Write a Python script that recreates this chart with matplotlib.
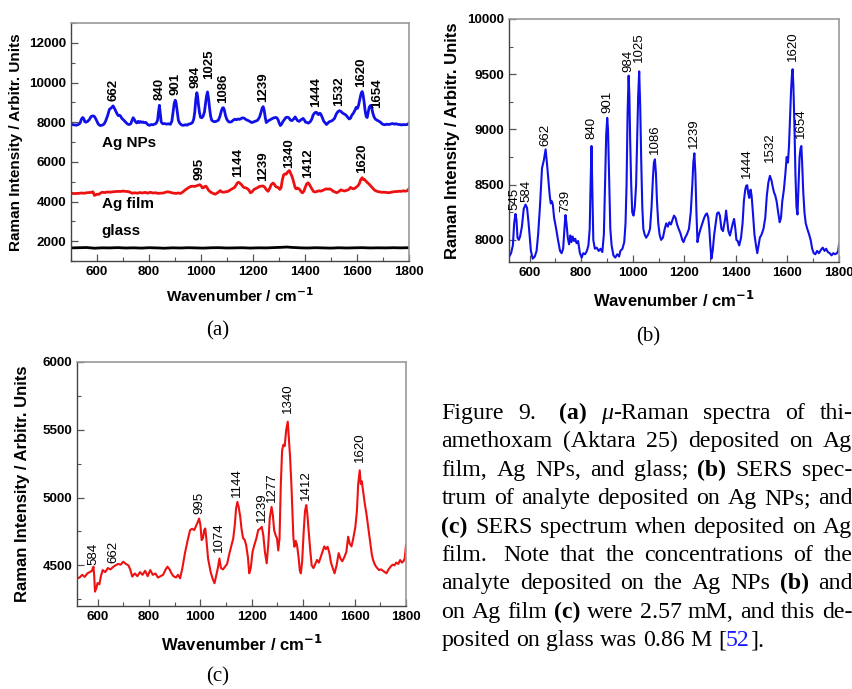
import re
import numpy as np
import matplotlib
matplotlib.use("Agg")
import matplotlib.pyplot as plt
from matplotlib.ticker import MultipleLocator
from matplotlib.font_manager import FontProperties

# ---------------------------------------------------------------------------
# Spectra (wavenumber / cm^-1, Raman intensity / arbitr. units)
# ---------------------------------------------------------------------------
np_wavenumber = [
    500, 508, 515, 520, 528, 535, 540, 545, 549, 553, 558, 563, 570, 577, 584,
    590, 596, 605, 612, 620, 627, 633, 640, 648, 655, 662, 667, 672, 678, 682,
    686, 690, 695, 703, 710, 718, 724, 730, 735, 739, 743, 748, 753, 758, 762,
    767, 772, 777, 782, 788, 795, 802, 808, 815, 822, 828, 833, 836, 840, 843,
    847, 853, 860, 868, 875, 882, 888, 893, 897, 901, 904, 908, 913, 918, 925,
    932, 940, 947, 952, 960, 967, 972, 976, 980, 984, 987, 990, 994, 998, 1003,
    1008, 1013, 1017, 1021, 1025, 1029, 1033, 1037, 1041, 1046, 1052, 1060,
    1067, 1073, 1078, 1082, 1086, 1090, 1094, 1099, 1104, 1110, 1117, 1124,
    1130, 1136, 1142, 1148, 1154, 1160, 1166, 1172, 1178, 1185, 1192, 1197,
    1203, 1210, 1218, 1225, 1231, 1235, 1239, 1243, 1247, 1251, 1257, 1263,
    1270, 1277, 1283, 1288, 1293, 1297, 1301, 1305, 1310, 1316, 1322, 1327,
    1333, 1338, 1344, 1350, 1355, 1359, 1362, 1366, 1371, 1377, 1383, 1388,
    1393, 1398, 1402, 1407, 1413, 1420, 1426, 1431, 1436, 1440, 1444, 1448,
    1452, 1457, 1461, 1466, 1472, 1478, 1483, 1488, 1493, 1500, 1507, 1514,
    1520, 1526, 1532, 1538, 1543, 1548, 1553, 1558, 1564, 1570, 1575, 1580,
    1586, 1592, 1597, 1602, 1606, 1610, 1614, 1617, 1620, 1623, 1627, 1631,
    1635, 1639, 1643, 1647, 1651, 1654, 1657, 1661, 1666, 1671, 1677, 1684,
    1690, 1696, 1702, 1708, 1715, 1722, 1730, 1737, 1744, 1750, 1757, 1764,
    1771, 1778, 1785, 1792, 1797, 1800]
np_intensity = [
    7900, 7870, 7860, 7845, 7880, 7950, 8150, 8235, 8180, 8020, 8000, 8030,
    8120, 8280, 8320, 8290, 8150, 7900, 7830, 7850, 7900, 8050, 8300, 8650,
    8720, 8820, 8700, 8560, 8400, 8330, 8350, 8320, 8200, 8100, 8000, 7900,
    7880, 7920, 8100, 8225, 8150, 8020, 7960, 8040, 7980, 8030, 7990, 8010,
    7970, 7990, 7880, 7840, 7880, 7870, 7900, 7950, 8100, 8450, 8850, 8500,
    8000, 7920, 7930, 7900, 7920, 7890, 8050, 8550, 8950, 9105, 9000, 8600,
    8100, 7950, 7860, 7840, 7870, 7850, 7900, 7920, 7980, 8150, 8500, 9150,
    9487, 9300, 8900, 8500, 8250, 8220, 8300, 8500, 8900, 9300, 9526, 9200,
    8700, 8300, 8100, 8050, 8020, 8050, 8100, 8300, 8550, 8700, 8730, 8600,
    8350, 8150, 8050, 8000, 8020, 8100, 8150, 8120, 8160, 8140, 8180, 8220,
    8200, 8140, 8100, 8060, 8000, 7980, 8020, 8050, 8100, 8250, 8500, 8700,
    8784, 8600, 8250, 7980, 8050, 8100, 8150, 8200, 8230, 8240, 8200, 8100,
    7950, 7830, 7900, 8050, 8150, 8240, 8250, 8220, 8100, 8080, 8150, 8200,
    8265, 8180, 8080, 8040, 8100, 8150, 8190, 8100, 8000, 7990, 7950, 8020,
    8150, 8350, 8450, 8490, 8495, 8420, 8380, 8455, 8400, 8250, 8050, 7950,
    7880, 7950, 8020, 8050, 8100, 8200, 8400, 8520, 8580, 8540, 8480, 8430,
    8400, 8350, 8250, 8160, 8200, 8350, 8450, 8600, 8750, 8700, 8850, 9100,
    9350, 9480, 9545, 9400, 9050, 8600, 8300, 8230, 8500, 8750, 8830, 8850,
    8700, 8450, 8250, 8150, 8100, 8050, 8000, 7920, 7880, 7870, 7900, 7880,
    7910, 7930, 7900, 7920, 7890, 7880, 7860, 7880, 7870, 7880, 7900, 7960]

film_wavenumber = [
    500, 510, 520, 530, 540, 550, 560, 570, 578, 584, 587, 590, 595, 600, 607,
    613, 620, 630, 640, 650, 662, 670, 680, 690, 700, 710, 720, 727, 735, 745,
    755, 765, 775, 785, 795, 805, 815, 825, 835, 845, 855, 865, 872, 880, 888,
    895, 905, 913, 921, 930, 940, 950, 960, 968, 976, 983, 990, 995, 1000,
    1005, 1010, 1015, 1019, 1023, 1030, 1040, 1048, 1055, 1062, 1068, 1074,
    1080, 1088, 1096, 1104, 1112, 1120, 1128, 1134, 1139, 1144, 1149, 1155,
    1160, 1166, 1172, 1178, 1185, 1190, 1196, 1203, 1210, 1218, 1225, 1232,
    1239, 1245, 1251, 1258, 1264, 1270, 1277, 1282, 1287, 1293, 1298, 1303,
    1308, 1313, 1318, 1323, 1328, 1334, 1340, 1345, 1349, 1354, 1358, 1362,
    1366, 1371, 1376, 1382, 1387, 1391, 1396, 1402, 1407, 1412, 1416, 1421,
    1427, 1433, 1440, 1447, 1454, 1461, 1468, 1475, 1482, 1488, 1495, 1502,
    1508, 1515, 1522, 1530, 1538, 1545, 1552, 1560, 1568, 1575, 1581, 1588,
    1595, 1603, 1609, 1614, 1620, 1624, 1628, 1633, 1640, 1646, 1653, 1660,
    1667, 1672, 1680, 1688, 1695, 1703, 1710, 1717, 1724, 1732, 1740, 1748,
    1755, 1762, 1770, 1777, 1784, 1790, 1795, 1800]
film_intensity = [
    4420, 4400, 4404, 4410, 4430, 4415, 4440, 4450, 4460, 4490, 4420, 4306,
    4330, 4370, 4360, 4420, 4465, 4450, 4480, 4470, 4490, 4500, 4510, 4505,
    4527, 4510, 4500, 4470, 4417, 4440, 4420, 4450, 4430, 4460, 4420, 4465,
    4430, 4440, 4410, 4420, 4430, 4470, 4490, 4470, 4440, 4420, 4410, 4430,
    4404, 4480, 4590, 4680, 4760, 4770, 4760, 4790, 4820, 4845, 4800, 4686,
    4700, 4760, 4772, 4700, 4550, 4450, 4400, 4368, 4430, 4480, 4550, 4480,
    4470, 4490, 4510, 4580, 4640, 4700, 4800, 4920, 4968, 4930, 4860, 4770,
    4700, 4690, 4650, 4560, 4441, 4480, 4600, 4650, 4700, 4760, 4770, 4784,
    4720, 4600, 4515, 4650, 4850, 4931, 4870, 4760, 4720, 4700, 4610, 4700,
    5100, 5348, 5390, 5380, 5500, 5560, 5420, 5300, 5100, 4900, 4700, 4637,
    4680, 4650, 4560, 4460, 4441, 4530, 4750, 4900, 4944, 4880, 4760, 4620,
    4500, 4480, 4510, 4540, 4520, 4560, 4600, 4640, 4620, 4637, 4590, 4520,
    4480, 4441, 4500, 4590, 4550, 4530, 4560, 4600, 4711, 4660, 4640, 4700,
    4784, 4900, 5100, 5201, 5100, 5120, 5050, 4950, 4882, 4780, 4680, 4580,
    4539, 4500, 4480, 4465, 4470, 4460, 4450, 4441, 4470, 4490, 4505, 4500,
    4520, 4510, 4539, 4520, 4530, 4550, 4650]

glass_wavenumber = [
    500, 530, 560, 590, 620, 650, 680, 710, 740, 770, 800, 830, 860, 890, 920,
    950, 980, 1010, 1040, 1070, 1100, 1130, 1160, 1190, 1220, 1250, 1280, 1310,
    1330, 1350, 1380, 1410, 1440, 1470, 1500, 1530, 1560, 1590, 1620, 1650,
    1680, 1710, 1740, 1770, 1800]
glass_intensity = [
    1660, 1670, 1680, 1645, 1665, 1660, 1675, 1655, 1665, 1650, 1670, 1660,
    1645, 1665, 1655, 1670, 1660, 1650, 1668, 1672, 1655, 1662, 1668, 1652,
    1665, 1660, 1675, 1690, 1705, 1685, 1665, 1655, 1670, 1660, 1650, 1668,
    1655, 1665, 1672, 1658, 1665, 1660, 1670, 1662, 1672]

# Peak assignments (cm^-1) annotated on each panel
peaks_a_nps = [662, 840, 901, 984, 1025, 1086, 1239, 1444, 1532, 1620, 1654]
peaks_a_film = [995, 1144, 1239, 1340, 1412, 1620]
peaks_b = [545, 584, 662, 739, 840, 901, 984, 1025, 1086, 1239, 1444, 1532,
           1620, 1654]
peaks_c = [584, 662, 995, 1074, 1144, 1239, 1277, 1340, 1412, 1620]

# Caption, one entry per typeset line (**bold**, *italic*, <link>)
caption_lines = [
    "Figure 9.  **(a)** *μ*-Raman spectra of thi-",
    "amethoxam (Aktara 25) deposited on Ag",
    "film, Ag NPs, and glass; **(b)** SERS spec-",
    "trum of analyte deposited on Ag NPs; and",
    "**(c)** SERS spectrum when deposited on Ag",
    "film.  Note that the concentrations of the",
    "analyte deposited on the Ag NPs **(b)** and",
    "on Ag film **(c)** were 2.57 mM, and this de-",
    "posited on glass was 0.86 M [<52>].",
]

# ---------------------------------------------------------------------------
W, H = 853, 689
fig = plt.figure(figsize=(W / 100, H / 100), dpi=100)
plt.rcParams["font.family"] = ["Liberation Sans", "DejaVu Sans"]

BLUE = "#1010e8"
RED = "#ee1111"


def axes_px(left, top, right, bottom):
    return fig.add_axes([left / W, 1 - bottom / H, (right - left) / W,
                         (bottom - top) / H])


def style(ax, xlim, ylim, ymaj, ymin, label_size, ypad, xpad):
    ax.set_xlim(*xlim)
    ax.set_ylim(*ylim)
    ax.xaxis.set_major_locator(MultipleLocator(200))
    ax.xaxis.set_minor_locator(MultipleLocator(100))
    ax.yaxis.set_major_locator(MultipleLocator(ymaj))
    ax.yaxis.set_minor_locator(MultipleLocator(ymin))
    ax.tick_params(which="both", direction="in", top=False, right=False,
                   color="#555555", labelsize=9.6, pad=3.5)
    ax.tick_params(which="major", length=5, width=0.9)
    ax.tick_params(which="minor", length=3, width=0.8)
    for lab in ax.get_xticklabels() + ax.get_yticklabels():
        lab.set_fontweight("bold")
    for side in ("left", "bottom"):
        ax.spines[side].set_color("#444444")
        ax.spines[side].set_linewidth(1.0)
    for side in ("top", "right"):
        ax.spines[side].set_color("#999999")
        ax.spines[side].set_linewidth(1.2)
    ax.set_xlabel("Wavenumber / cm$^{\\mathbf{-1}}$", fontsize=label_size,
                  fontweight="bold", labelpad=xpad)
    ax.set_ylabel("Raman Intensity / Arbitr. Units", fontsize=label_size,
                  fontweight="bold", labelpad=ypad)


def annotate(ax, xs, ys, peaks, shifts, weight="normal"):
    """Vertical peak labels; shifts maps peak -> (dx, dy) in points."""
    for p in peaks:
        y = np.interp(p, xs, ys)
        dx, dy = shifts.get(p, (0, 3.5))
        ax.annotate(str(p), xy=(p, y), xytext=(dx, dy),
                    textcoords="offset points", rotation=90, ha="center",
                    va="bottom", fontsize=9.5, fontweight=weight)


# ---- (a) three spectra ----
ax_a = axes_px(71, 23, 409, 261)
ax_a.plot(np_wavenumber, np_intensity, color=BLUE, lw=2.0)
ax_a.plot(film_wavenumber, film_intensity, color=RED, lw=2.0)
ax_a.plot(glass_wavenumber, glass_intensity, color="black", lw=2.0)
style(ax_a, (500, 1800), (1000, 13000), 2000, 1000, 11, 4, 6)
annotate(ax_a, np_wavenumber, np_intensity, peaks_a_nps,
         {984: (-1, 3.5), 1025: (1.5, 9), 1620: (-1, 3), 1654: (4.5, -2)},
         weight="bold")
annotate(ax_a, film_wavenumber, film_intensity, peaks_a_film,
         {1340: (0, 1.5)}, weight="bold")
for txt, y in (("Ag NPs", 6950), ("Ag film", 3850), ("glass", 2520)):
    ax_a.text(618, y, txt, fontsize=11, fontweight="bold", va="center",
              ha="left")

# ---- (b) SERS on Ag NPs ----
ax_b = axes_px(509, 19, 839, 262)
ax_b.plot(np_wavenumber, np_intensity, color=BLUE, lw=1.5)
style(ax_b, (520, 1800), (7800, 10000), 500, 250, 12, 5, 8)
annotate(ax_b, np_wavenumber, np_intensity, peaks_b,
         {545: (-1, 2.5), 584: (1, 1.5), 662: (0, 2.5), 739: (0, 2.5),
          984: (0, 2.5), 1025: (0, 7), 1532: (0, 10), 1620: (0, 6),
          1654: (0, 6), 840: (0, 5), 1444: (0, 5)})

# ---- (c) SERS on Ag film ----
ax_c = axes_px(77, 362, 406, 606)
ax_c.plot(film_wavenumber, film_intensity, color=RED, lw=1.5)
style(ax_c, (520, 1800), (4200, 6000), 500, 250, 12, 9, 8)
annotate(ax_c, film_wavenumber, film_intensity, peaks_c,
         {584: (0, 1), 662: (0, 3), 1340: (0, 6), 1620: (0, 6),
          1074: (0, 5)})

# ---- panel captions ----
for txt, x, y in (("(a)", 218, 331), ("(b)", 648, 337), ("(c)", 218, 677)):
    fig.text(x / W, 1 - y / H, txt, fontsize=15, family="Liberation Serif",
             ha="center", va="center")

# ---- justified figure caption ----
CAP_SIZE = 17.2
serif = {"r": FontProperties(family="Liberation Serif", size=CAP_SIZE),
         "b": FontProperties(family="Liberation Serif", size=CAP_SIZE,
                             weight="bold"),
         "i": FontProperties(family="Liberation Serif", size=CAP_SIZE,
                             style="italic")}


def parse_word(word):
    segs = []
    for piece in re.split(r"(\*\*.*?\*\*|\*.*?\*|<.*?>)", word):
        if not piece:
            continue
        if piece.startswith("**"):
            segs.append((piece[2:-2], "b", "black"))
        elif piece.startswith("*"):
            segs.append((piece[1:-1], "i", "black"))
        elif piece.startswith("<"):
            segs.append((piece[1:-1], "r", "#1a1aff"))
        else:
            segs.append((piece, "r", "black"))
    return segs


def split_words(line):
    """Words plus the relative width of the gap that follows each one
    (a double space after a sentence gets a wider gap)."""
    words, weights = [], []
    for tok in line.split(" "):
        if tok == "":
            weights[-1] = 1.6
        else:
            words.append(tok)
            weights.append(1.0)
    return words, weights[:-1]


renderer = fig.canvas.get_renderer()
probe = fig.text(0, 0, "n n", fontproperties=serif["r"])
probe2 = fig.text(0, 0, "nn", fontproperties=serif["r"])
space_px = (probe.get_window_extent(renderer).width
            - probe2.get_window_extent(renderer).width)
probe.remove()
probe2.remove()

x_left, x_right = 441.5, 852.5
for i, line in enumerate(caption_lines):
    base_y = 419 + i * 28.4
    words, weights = split_words(line)
    placed = []
    for word in words:
        items = []
        for s, st, col in parse_word(word):
            t = fig.text(0, 1 - base_y / H, s, fontproperties=serif[st],
                         color=col, va="baseline", ha="left")
            items.append((t, t.get_window_extent(renderer).width))
        placed.append(items)
    widths = [sum(w for _, w in items) for items in placed]
    if i == len(caption_lines) - 1:
        unit = space_px
    else:
        unit = (x_right - x_left - sum(widths)) / sum(weights)
    x = x_left
    for k, (items, wsum) in enumerate(zip(placed, widths)):
        for t, w in items:
            t.set_x(x / W)
            x += w
        if k < len(weights):
            x += unit * weights[k]

fig.savefig("out.png", dpi=100)
